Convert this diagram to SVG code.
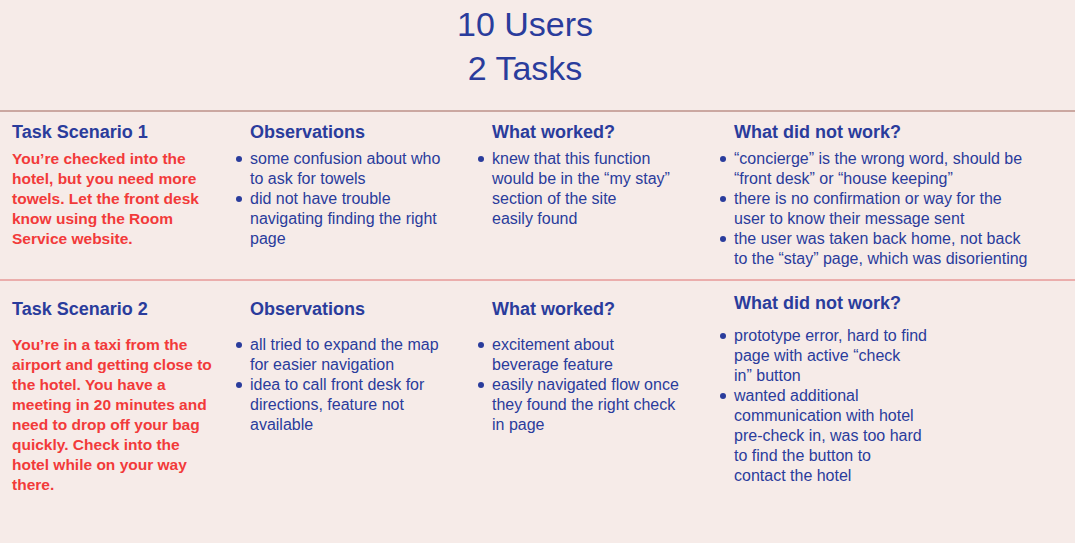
<svg xmlns="http://www.w3.org/2000/svg" width="1075" height="543" viewBox="0 0 1075 543">
<style>
.t{font-family:"Liberation Sans",Arial,sans-serif;fill:#2a3c9c}
.ti{font-size:34px}
.h{font-size:18px;font-weight:bold}
.b{font-size:16px}
.r{font-family:"Liberation Sans",Arial,sans-serif;fill:#f23a3a;font-size:15.5px;font-weight:bold}
.d{fill:#2a3c9c}
</style>
<rect width="1075" height="543" fill="#f6ebe8"/>
<g id="title"><text class="t ti" x="525" y="36" text-anchor="middle">10 Users</text><text class="t ti" x="525" y="80" text-anchor="middle">2 Tasks</text></g>
<line x1="0" y1="111" x2="1075" y2="111" stroke="#a0645a" stroke-width="1"/>
<line x1="0" y1="280" x2="1075" y2="280" stroke="#e07070" stroke-width="1"/>
<g id="row1">
<text class="t h" x="12" y="138">Task Scenario 1</text>
<text class="r" x="12" y="164">You’re checked into the</text>
<text class="r" x="12" y="184">hotel, but you need more</text>
<text class="r" x="12" y="204">towels. Let the front desk</text>
<text class="r" x="12" y="224">know using the Room</text>
<text class="r" x="12" y="244">Service website.</text>
<text class="t h" x="250" y="138">Observations</text>
<circle class="d" cx="239" cy="159" r="3"/><text class="t b" x="250" y="164">some confusion about who</text>
<text class="t b" x="250" y="184">to ask for towels</text>
<circle class="d" cx="239" cy="199" r="3"/><text class="t b" x="250" y="204">did not have trouble</text>
<text class="t b" x="250" y="224">navigating finding the right</text>
<text class="t b" x="250" y="244">page</text>
<text class="t h" x="492" y="138">What worked?</text>
<circle class="d" cx="481" cy="159" r="3"/><text class="t b" x="492" y="164">knew that this function</text>
<text class="t b" x="492" y="184">would be in the “my stay”</text>
<text class="t b" x="492" y="204">section of the site</text>
<text class="t b" x="492" y="224">easily found</text>
<text class="t h" x="734" y="138">What did not work?</text>
<circle class="d" cx="723" cy="159" r="3"/><text class="t b" x="734" y="164">“concierge” is the wrong word, should be</text>
<text class="t b" x="734" y="184">“front desk” or “house keeping”</text>
<circle class="d" cx="723" cy="199" r="3"/><text class="t b" x="734" y="204">there is no confirmation or way for the</text>
<text class="t b" x="734" y="224">user to know their message sent</text>
<circle class="d" cx="723" cy="239" r="3"/><text class="t b" x="734" y="244">the user was taken back home, not back</text>
<text class="t b" x="734" y="264">to the “stay” page, which was disorienting</text>
</g>
<g id="row2">
<text class="t h" x="12" y="315">Task Scenario 2</text>
<text class="r" x="12" y="350">You’re in a taxi from the</text>
<text class="r" x="12" y="370">airport and getting close to</text>
<text class="r" x="12" y="390">the hotel. You have a</text>
<text class="r" x="12" y="410">meeting in 20 minutes and</text>
<text class="r" x="12" y="430">need to drop off your bag</text>
<text class="r" x="12" y="450">quickly. Check into the</text>
<text class="r" x="12" y="470">hotel while on your way</text>
<text class="r" x="12" y="490">there.</text>
<text class="t h" x="250" y="315">Observations</text>
<circle class="d" cx="239" cy="345" r="3"/><text class="t b" x="250" y="350">all tried to expand the map</text>
<text class="t b" x="250" y="370">for easier navigation</text>
<circle class="d" cx="239" cy="385" r="3"/><text class="t b" x="250" y="390">idea to call front desk for</text>
<text class="t b" x="250" y="410">directions, feature not</text>
<text class="t b" x="250" y="430">available</text>
<text class="t h" x="492" y="315">What worked?</text>
<circle class="d" cx="481" cy="345" r="3"/><text class="t b" x="492" y="350">excitement about</text>
<text class="t b" x="492" y="370">beverage feature</text>
<circle class="d" cx="481" cy="385" r="3"/><text class="t b" x="492" y="390">easily navigated flow once</text>
<text class="t b" x="492" y="410">they found the right check</text>
<text class="t b" x="492" y="430">in page</text>
<text class="t h" x="734" y="309">What did not work?</text>
<circle class="d" cx="723" cy="336" r="3"/><text class="t b" x="734" y="341">prototype error, hard to find</text>
<text class="t b" x="734" y="361">page with active “check</text>
<text class="t b" x="734" y="381">in” button</text>
<circle class="d" cx="723" cy="396" r="3"/><text class="t b" x="734" y="401">wanted additional</text>
<text class="t b" x="734" y="421">communication with hotel</text>
<text class="t b" x="734" y="441">pre-check in, was too hard</text>
<text class="t b" x="734" y="461">to find the button to</text>
<text class="t b" x="734" y="481">contact the hotel</text>
</g>
</svg>
